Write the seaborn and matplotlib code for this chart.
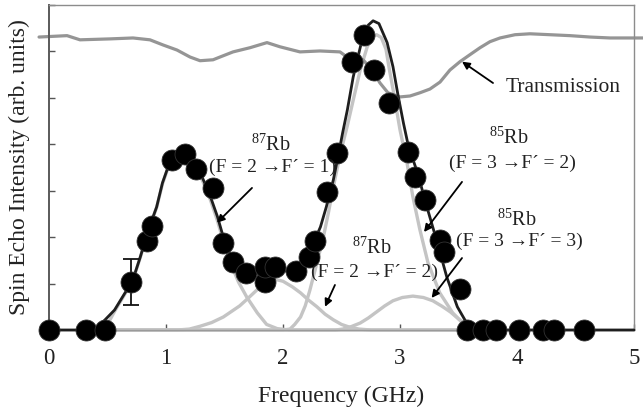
import numpy as np
import pandas as pd
import matplotlib
matplotlib.use("Agg")
import matplotlib.pyplot as plt
import seaborn as sns

# ---------------- data ----------------
# measured spin-echo points (GHz, arb. units)
echo_x = [0.00, 0.32, 0.48, 0.70, 0.84, 0.88, 1.05, 1.16, 1.26, 1.40, 1.49, 1.57,
          1.68, 1.85, 1.85, 1.93, 2.11, 2.22, 2.27, 2.38, 2.46, 2.59, 2.69, 2.78,
          2.91, 3.07, 3.13, 3.21, 3.34, 3.38, 3.51, 3.57, 3.71, 3.82, 4.02, 4.22,
          4.32, 4.57]
echo_y = [0.00, 0.00, 0.00, 1.03, 1.92, 2.24, 3.66, 3.79, 3.47, 3.06, 1.87, 1.47,
          1.23, 1.03, 1.36, 1.36, 1.27, 1.57, 1.92, 2.97, 3.81, 5.78, 6.36, 5.60,
          4.89, 3.84, 3.30, 2.80, 1.94, 1.68, 0.88, 0.00, 0.00, 0.00, 0.00, 0.00,
          0.00, 0.00]

# error bar on one point
err_x = [0.70]
err_y = [1.03]
err_half = [0.50]

# total fit (black)
fit_x = [0.00, 0.38, 0.42, 0.46, 0.56, 0.65, 0.71, 0.78, 0.85, 0.92, 0.97, 1.03,
         1.09, 1.15, 1.21, 1.27, 1.32, 1.38, 1.44, 1.49, 1.55, 1.63, 1.72, 1.82,
         1.92, 2.02, 2.10, 2.17, 2.26, 2.32, 2.37, 2.43, 2.47, 2.51, 2.55, 2.60,
         2.67, 2.73, 2.77, 2.82, 2.89, 2.94, 2.98, 3.03, 3.07, 3.15, 3.23, 3.32,
         3.40, 3.49, 3.57, 3.64, 3.70, 5.00]
fit_y = [0.00, 0.00, 0.05, 0.17, 0.43, 0.80, 1.03, 1.57, 2.16, 2.65, 3.17, 3.60,
         3.80, 3.86, 3.75, 3.50, 3.23, 2.87, 2.44, 2.00, 1.60, 1.32, 1.24, 1.22,
         1.23, 1.27, 1.33, 1.44, 1.87, 2.22, 2.65, 3.23, 3.73, 4.25, 4.74, 5.45,
         6.19, 6.57, 6.66, 6.60, 6.19, 5.67, 5.10, 4.45, 3.98, 3.38, 2.65, 1.87,
         1.14, 0.50, 0.15, 0.02, 0.00, 0.00]

# component 87Rb F=2 -> F'=1
c1_x = [0.45, 0.50, 0.56, 0.65, 0.71, 0.78, 0.85, 0.92, 0.97, 1.03, 1.09, 1.15,
        1.21, 1.27, 1.32, 1.38, 1.44, 1.49, 1.55, 1.62, 1.69, 1.78, 1.86, 1.95,
        2.05, 3.70]
c1_y = [0.00, 0.12, 0.40, 0.78, 1.02, 1.56, 2.15, 2.64, 3.15, 3.58, 3.78, 3.83,
        3.72, 3.46, 3.17, 2.80, 2.35, 1.92, 1.45, 1.03, 0.71, 0.37, 0.12, 0.03,
        0.00, 0.00]

# component 87Rb F=2 -> F'=2
c2_x = [0.45, 1.10, 1.20, 1.29, 1.39, 1.49, 1.56, 1.63, 1.70, 1.78, 1.85, 1.92,
        2.00, 2.08, 2.15, 2.22, 2.29, 2.36, 2.43, 2.50, 2.57, 2.65, 2.75, 3.70]
c2_y = [0.00, 0.00, 0.02, 0.08, 0.16, 0.28, 0.40, 0.52, 0.68, 0.87, 1.03, 1.10,
        1.05, 0.93, 0.80, 0.64, 0.50, 0.34, 0.22, 0.12, 0.06, 0.02, 0.00, 0.00]

# component 85Rb F=3 -> F'=2
c3_x = [0.45, 2.00, 2.06, 2.10, 2.15, 2.19, 2.23, 2.28, 2.34, 2.39, 2.43, 2.49,
        2.55, 2.60, 2.66, 2.72, 2.77, 2.80, 2.84, 2.88, 2.91, 2.95, 3.00, 3.06,
        3.11, 3.17, 3.24, 3.34, 3.45, 3.57, 3.65, 3.70]
c3_y = [0.00, 0.00, 0.02, 0.12, 0.28, 0.52, 0.86, 1.35, 1.94, 2.55, 3.08, 3.80,
        4.40, 4.95, 5.60, 6.10, 6.32, 6.36, 6.30, 6.05, 5.60, 5.05, 4.31, 3.60,
        2.87, 2.16, 1.44, 0.80, 0.37, 0.06, 0.00, 0.00]

# component 85Rb F=3 -> F'=3
c4_x = [0.45, 2.45, 2.51, 2.58, 2.66, 2.73, 2.80, 2.87, 2.94, 3.02, 3.11, 3.20,
        3.28, 3.36, 3.43, 3.50, 3.57, 3.63, 3.70]
c4_y = [0.00, 0.00, 0.02, 0.07, 0.15, 0.26, 0.39, 0.52, 0.63, 0.70, 0.73, 0.70,
        0.63, 0.51, 0.39, 0.24, 0.11, 0.04, 0.00]

# transmission trace
tr_x = [-0.085, 0.154, 0.265, 0.521, 0.718, 0.863, 0.974, 1.094, 1.205, 1.291,
        1.402, 1.462, 1.573, 1.718, 1.863, 1.974, 2.145, 2.316, 2.487, 2.547,
        2.684, 2.761, 2.829, 2.897, 3.000, 3.085, 3.171, 3.256, 3.342, 3.427,
        3.513, 3.598, 3.684, 3.769, 3.855, 3.983, 4.111, 4.282, 4.453, 4.624,
        4.795, 5.077]
tr_y = [6.31, 6.34, 6.25, 6.27, 6.29, 6.25, 6.14, 6.03, 5.88, 5.80,
        5.82, 5.88, 5.99, 6.08, 6.19, 6.10, 5.99, 6.01, 5.99, 5.88,
        5.82, 5.60, 5.32, 5.11, 5.02, 5.04, 5.11, 5.19, 5.34, 5.60,
        5.78, 5.93, 6.08, 6.21, 6.29, 6.36, 6.38, 6.36, 6.34, 6.31,
        6.29, 6.29]

x_ticks = [0, 1, 2, 3, 4, 5]
x_tick_labels = ["0", "1", "2", "3", "4", "5"]
y_ticks = [0, 1, 2, 3, 4, 5, 6, 7]

# ---------------- style ----------------
sns.set_theme(style="white")
plt.rcParams["font.family"] = ["Liberation Serif", "DejaVu Serif"]
plt.rcParams["mathtext.fontset"] = "custom"
plt.rcParams["mathtext.rm"] = "Liberation Serif"

fig = plt.figure(figsize=(6.43, 4.12), dpi=100)
ax = fig.add_axes([49 / 643, 1 - 330 / 412, 585 / 643, 325 / 412])

LIGHT = "#c4c4c4"
for cx, cy in [(c1_x, c1_y), (c2_x, c2_y), (c3_x, c3_y), (c4_x, c4_y)]:
    sns.lineplot(x=cx, y=cy, ax=ax, color=LIGHT, lw=2.4, sort=False,
                 clip_on=False, zorder=2)

sns.lineplot(x=tr_x, y=tr_y, ax=ax, color="#959595", lw=2.3, sort=False,
             clip_on=False, zorder=2)

sns.lineplot(x=fit_x, y=fit_y, ax=ax, color="#1e1e1e", lw=2.0, sort=False,
             clip_on=False, zorder=3)

ax.errorbar(err_x, err_y, yerr=err_half, fmt="none", ecolor="#111111",
            elinewidth=1.3, capsize=6, capthick=1.3, zorder=4)

sns.scatterplot(x=echo_x, y=echo_y, ax=ax, s=228, color="black",
                edgecolor="#333333", linewidth=0.6, clip_on=False, zorder=5)

ax.set_xlim(0, 5)
ax.set_ylim(0, 7)
ax.set_xticks(x_ticks)
ax.set_xticklabels(x_tick_labels, fontsize=16.5, color="#222222")
ax.set_yticks(y_ticks)
ax.set_yticklabels([])
ax.tick_params(axis="x", direction="in", length=4, width=1, color="#555555",
               pad=13, bottom=True)
ax.tick_params(axis="y", direction="in", length=4, width=1, color="#555555",
               left=True)

for side, col, lw in [("left", "#5a5a5a", 1.4), ("top", "#8c8c8c", 1.0),
                      ("right", "#8c8c8c", 1.0), ("bottom", "#9a9a9a", 1.0)]:
    ax.spines[side].set_visible(True)
    ax.spines[side].set_color(col)
    ax.spines[side].set_linewidth(lw)

ax.set_xlabel("Frequency (GHz)", fontsize=17, color="#222222", labelpad=12)
ax.set_ylabel("Spin Echo Intensity (arb. units)", fontsize=17,
              color="#222222", labelpad=10)

rb = dict(ha="center", va="center", fontsize=14.5, color="#222222", zorder=6)
fx = dict(ha="center", va="center", fontsize=14, color="#222222", zorder=6)
ax.text(1.90, 3.99, r"$^{87}$Rb", **rb)
ax.text(1.91, 3.51, "(F = 2 \u2192F\u00b4 = 1)", **fx)
ax.text(2.76, 1.77, r"$^{87}$Rb", **rb)
ax.text(2.78, 1.25, "(F = 2 \u2192F\u00b4 = 2)", **fx)
ax.text(3.93, 4.14, r"$^{85}$Rb", **rb)
ax.text(3.96, 3.58, "(F = 3 \u2192F\u00b4 = 2)", **fx)
ax.text(4.00, 2.37, r"$^{85}$Rb", **rb)
ax.text(4.02, 1.90, "(F = 3 \u2192F\u00b4 = 3)", **fx)
ax.text(4.39, 5.22, "Transmission", ha="center", va="center", fontsize=15.5,
        color="#222222", zorder=6)

arrow = dict(arrowstyle="-|>", color="black", lw=1.3, mutation_scale=11,
             shrinkA=0, shrinkB=0)
for (x0, y0), (x1, y1) in [((1.735, 3.06), (1.436, 2.31)),
                           ((2.444, 0.97), (2.359, 0.50)),
                           ((3.53, 3.19), (3.205, 2.11)),
                           ((3.53, 1.55), (3.27, 0.69)),
                           ((3.795, 5.32), (3.53, 5.78))]:
    ax.annotate("", xy=(x1, y1), xytext=(x0, y0), arrowprops=arrow, zorder=6)

fig.savefig("out.png", dpi=100)
